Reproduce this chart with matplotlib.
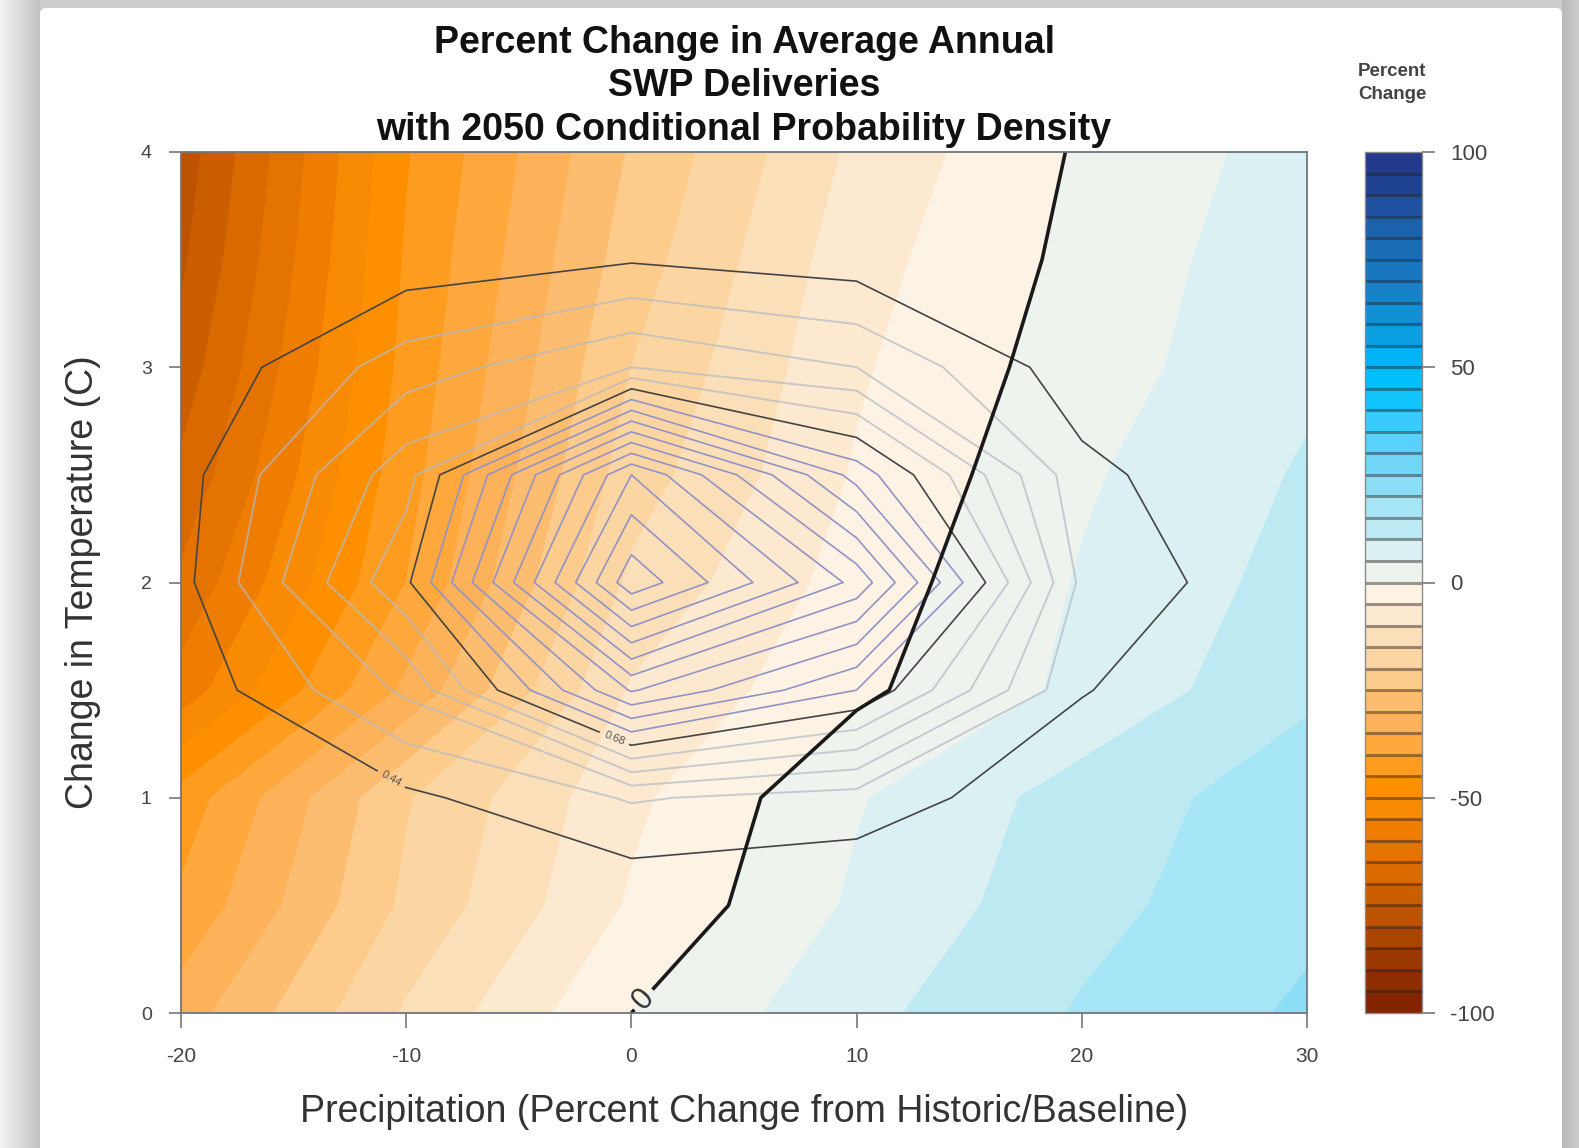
"""
Percent change in SWP deliveries, response surface with 2050 probability density rings
"""

import numpy as np
import matplotlib
matplotlib.use("Agg")
import matplotlib.pyplot as plt
from matplotlib.patches import FancyBboxPatch

plt.rcParams['font.family'] = ['Liberation Sans', 'DejaVu Sans']
plt.rcParams['axes.unicode_minus'] = False

# grid of the model runs
precip_change = [-20, -10, 0, 10, 20, 30]
temp_change = [0, 0.5, 1, 1.5, 2, 2.5, 3, 3.5, 4]

# percent change in deliveries, one row per temperature
pct_change = [
    [-32.5, -14.4, 0, 8.55, 15.46, 20.8],
    [-39, -19, -4.4, 5.8, 13.4, 18.8],
    [-43, -20.5, -6.15, 4.55, 12.1, 17.9],
    [-58, -34, -9.5, -1.05, 6.2, 14],
    [-64, -40, -14, -2.7, 5.4, 11.9],
    [-69, -42, -17.5, -4.5, 4.3, 10.6],
    [-73, -43.5, -20, -5.7, 2.7, 8.9],
    [-76, -44.5, -22.5, -7, 1.5, 8.6],
    [-78, -45.5, -24.5, -8.9, 0.7, 7.3],
]

# conditional density, in contour interval units (0 = outer ring)
density = [
    [-2.5, -2, -1.5, -1.2, -3, -3],
    [-2, -1, -0.85, -0.9, -2, -3],
    [-1.5, -0.23, 1.1, 0.56, -0.77, -3],
    [-0.73, 2.2, 9.1, 6, 0.06, -1.1],
    [-0.3, 4.8, 15.7, 10.7, 0.75, -0.85],
    [-0.4, 3.6, 13, 6.6, 0.28, -1.1],
    [-0.84, 1.5, 3, 2, -0.6, -3],
    [-1.2, -0.6, -0.1, -0.5, -2, -3],
    [-1.5, -1, -0.5, -1, -2, -3],
]
density_labels = {0: "0.44", 5: "0.68"}

pct_levels = list(range(-100, 105, 5))
band_colors = [
    "#822400", "#8e2e00", "#9a3800", "#aa4500", "#bc5300", "#cb5f00", "#da6a00", "#e57300",
    "#ee7d02", "#f98a03", "#fe9000", "#fe9c20", "#fea83e", "#fdb158", "#fdbd70", "#fdcb8b",
    "#fbd6a3", "#fbdfb8", "#fce9d0", "#fdf3e4",
    "#eef3ee", "#daf0f3", "#bde9f3", "#a6e5f5", "#8cdef6", "#70d7f8", "#58d2fb", "#38cbfb",
    "#11c5ff", "#00bfff", "#00b4f5", "#0a9fe0", "#1190d5", "#1582c8", "#1878bf", "#1a6cb4",
    "#1b62ab", "#1d519f", "#1f4293", "#22398c",
]

W, H = 1579, 1148
GREY_TEXT = "#444444"
GREY_TICK = "#777777"


def px_axes(fig, left, top, right, bottom):
    """Axes placed by pixel edges, measured from the top left of the picture"""
    return fig.add_axes([left / W, 1 - bottom / H, (right - left) / W, (bottom - top) / H])


def draw_card(fig):
    """Grey page behind the white rounded card"""
    bg = fig.add_axes([0, 0, 1, 1], zorder=-2)
    shade = np.full((H, W), 0.80)
    shade[:, :40] = np.linspace(0.95, 0.76, 40)
    shade[:, 1562:] = np.linspace(0.72, 0.80, W - 1562)
    bg.imshow(shade, cmap="gray", vmin=0, vmax=1, aspect="auto", extent=[0, W, H, 0])
    bg.add_patch(FancyBboxPatch((44, 12), 1514, H + 40, boxstyle="round,pad=4,rounding_size=6",
                                fc="white", ec="none"))
    bg.set_xlim(0, W)
    bg.set_ylim(H, 0)
    bg.axis("off")


def main():
    fig = plt.figure(figsize=(W / 100, H / 100), dpi=100, facecolor="white")
    draw_card(fig)

    ax = px_axes(fig, 181, 152, 1307, 1013)
    cax = px_axes(fig, 1365, 152, 1422, 1013)

    # filled response surface
    cf = ax.contourf(precip_change, temp_change, pct_change, levels=pct_levels, colors=band_colors)
    cf.set_edgecolor("face")
    cf.set_linewidth(0.4)

    # density rings, two darker ones carry a label
    ax.contour(precip_change, temp_change, density, levels=[1, 2, 3, 4],
               colors="#b4b9c4", linewidths=1.4, alpha=0.7)
    ax.contour(precip_change, temp_change, density, levels=list(range(6, 16)),
               colors="#9393c6", linewidths=1.2)
    dark = ax.contour(precip_change, temp_change, density, levels=[0, 5],
                      colors="#444444", linewidths=1.2)
    ax.clabel(dark, fmt=density_labels, fontsize=8, colors="#555555",
              manual=[(-10.7, 1.08), (-0.7, 1.29)])

    # zero change line
    zero = ax.contour(precip_change, temp_change, pct_change, levels=[0],
                      colors="#1a1a1a", linewidths=2.6)
    ax.clabel(zero, fmt="%d", fontsize=22, colors="#333333", manual=[(0.45, 0.07)])

    ax.set_xlim(-20, 30)
    ax.set_ylim(0, 4)
    ax.set_xticks([-20, -10, 0, 10, 20, 30])
    ax.set_yticks([0, 1, 2, 3, 4])
    ax.tick_params(axis="x", length=11, width=1.2, color=GREY_TICK, labelsize=15,
                   labelcolor=GREY_TEXT, pad=13.5)
    ax.tick_params(axis="y", length=9, width=1.2, color=GREY_TICK, labelsize=14,
                   labelcolor=GREY_TEXT, pad=12)
    for side in ax.spines.values():
        side.set_color("#6f767c")
        side.set_linewidth(1.3)

    ax.set_xlabel("Precipitation (Percent Change from Historic/Baseline)", fontsize=27,
                  color="#333333", labelpad=20)
    ax.set_ylabel("Change in Temperature (C)", fontsize=27, color="#333333", labelpad=29)
    ax.set_title("Percent Change in Average Annual\nSWP Deliveries\n"
                 "with 2050 Conditional Probability Density",
                 fontsize=27, fontweight="bold", color="#111111", linespacing=1.265, pad=9)

    # colour key
    cb = fig.colorbar(cf, cax=cax, ticks=[-100, -50, 0, 50, 100], drawedges=True)
    cb.dividers.set_color("#222222")
    cb.dividers.set_alpha(0.45)
    cb.dividers.set_linewidth(2.2)
    cb.outline.set_edgecolor("#8a8a8a")
    cb.outline.set_linewidth(1)
    cb.ax.tick_params(length=9, width=1.2, color=GREY_TICK, labelsize=16,
                      labelcolor=GREY_TEXT, pad=11.5)
    fig.text(1392 / W, 1 - 83 / H, "Percent\nChange", fontsize=13.5, fontweight="bold",
             color="#444444", ha="center", va="center", linespacing=1.4)

    fig.savefig("out.png", dpi=100, facecolor="white")
    plt.close(fig)


if __name__ == "__main__":
    main()
